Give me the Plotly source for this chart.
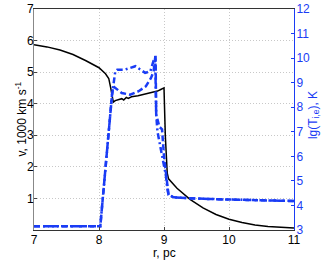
import plotly.graph_objects as go

# Velocity (left axis), 1000 km/s
r_v = [7.0, 7.2, 7.4, 7.6, 7.8, 8.0, 8.1, 8.15, 8.18, 8.2, 8.22, 8.25, 8.3, 8.35, 8.38,
       8.42, 8.45, 8.5, 8.6, 8.7, 8.8, 8.9, 8.95, 8.99, 9.0, 9.02, 9.05, 9.07, 9.2, 9.4,
       9.6, 9.8, 10.0, 10.2, 10.4, 10.6, 10.8, 11.0]
v = [5.87, 5.8, 5.7, 5.56, 5.36, 5.14, 4.95, 4.8, 4.5, 4.2, 4.05, 4.1, 4.12, 4.16, 4.12,
     4.2, 4.17, 4.22, 4.25, 4.3, 4.36, 4.4, 4.45, 4.5, 4.5, 3.0, 1.8, 1.62, 1.32, 0.97,
     0.7, 0.49, 0.34, 0.24, 0.16, 0.11, 0.08, 0.06]

# Ion temperature lg(Ti) (right axis)
r_ti = [7.0, 8.02, 8.2, 8.22, 8.35, 8.48, 8.61, 8.72, 8.8, 8.84, 8.87, 8.875, 8.88, 8.93,
        8.97, 9.0, 9.03, 9.05, 9.07, 9.15, 9.5, 10.0, 10.5, 11.0]
lg_ti = [3.15, 3.15, 8.5, 8.85, 8.58, 8.51, 8.65, 8.85, 9.19, 9.46, 10.14, 9.0, 7.7, 7.2,
         7.1, 6.0, 5.2, 4.7, 4.43, 4.33, 4.28, 4.24, 4.21, 4.18]

# Electron temperature lg(Te) (right axis)
r_te = [7.0, 8.02, 8.2, 8.25, 8.28, 8.4, 8.56, 8.71, 8.79, 8.84, 8.865, 8.88, 8.9, 8.97,
        9.03, 9.05, 9.07, 9.15, 9.5, 10.0, 10.5, 11.0]
lg_te = [3.15, 3.15, 8.5, 9.45, 9.53, 9.53, 9.67, 9.4, 9.46, 9.9, 10.0, 7.7, 7.0, 6.0,
         5.2, 4.7, 4.43, 4.33, 4.28, 4.24, 4.21, 4.18]

x_ticks = [7, 8, 9, 10, 11]
v_ticks = [1, 2, 3, 4, 5, 6, 7]
t_ticks = [3, 4, 5, 6, 7, 8, 9, 10, 11, 12]

x_title = "r, pc"
v_title = "v, 1000 km s<sup>-1</sup>"
t_title = "lg(T<sub>i,e</sub>), K"

BLUE = "#1a3cf5"
FONT = "Liberation Sans, Arial, sans-serif"
GRID = dict(showgrid=True, gridcolor="#c8c8c8", griddash="1px,2px", gridwidth=1)

fig = go.Figure()
fig.add_trace(go.Scatter(x=r_v, y=v, mode="lines", line=dict(color="black", width=1.5),
                         yaxis="y", showlegend=False))
fig.add_trace(go.Scatter(x=r_ti, y=lg_ti, mode="lines",
                         line=dict(color=BLUE, width=2.5, dash="6px,3px"),
                         yaxis="y2", showlegend=False))
fig.add_trace(go.Scatter(x=r_te, y=lg_te, mode="lines",
                         line=dict(color=BLUE, width=2.5, dash="6px,3px,2px,3px"),
                         yaxis="y2", showlegend=False))

fig.update_layout(
    width=332, height=262,
    margin=dict(l=34, r=38, t=9, b=32, autoexpand=False),
    paper_bgcolor="white", plot_bgcolor="white",
    font=dict(family=FONT, size=12, color="black"),
    xaxis=dict(range=[7, 11], tickvals=x_ticks, ticks="inside", ticklen=3,
               showline=True, linecolor="#333", linewidth=1, mirror=True,
               zeroline=False, tickfont=dict(size=12), automargin=False,
               ticklabelstandoff=-1, **GRID),
    yaxis=dict(range=[0, 7], tickvals=v_ticks, ticks="inside", ticklen=3,
               showline=True, linecolor="#888", linewidth=1,
               zeroline=False, tickfont=dict(size=12), automargin=False,
               ticklabelstandoff=-3, **GRID),
    yaxis2=dict(range=[3, 12], tickvals=t_ticks, ticks="inside", ticklen=3,
                overlaying="y", side="right", showline=True, linecolor=BLUE, linewidth=1,
                showgrid=False, zeroline=False, tickcolor=BLUE, automargin=False,
                ticklabelstandoff=-1, tickfont=dict(size=12, color=BLUE)),
    annotations=[
        dict(text=x_title, xref="paper", yref="paper", x=0.5, y=0, xanchor="center",
             yanchor="middle", yshift=-23, showarrow=False, font=dict(size=12)),
        dict(text=v_title, xref="paper", yref="paper", x=0, y=0.5, xanchor="center",
             yanchor="middle", xshift=-14, textangle=-90, showarrow=False,
             font=dict(size=12)),
        dict(text=t_title, xref="paper", yref="paper", x=1, y=0.52, xanchor="center",
             yanchor="middle", xshift=20, textangle=-90, showarrow=False,
             font=dict(size=12, color=BLUE)),
    ],
)

fig.write_html("out.html", config={"displayModeBar": False},
               post_script="document.body.style.margin='0';")
